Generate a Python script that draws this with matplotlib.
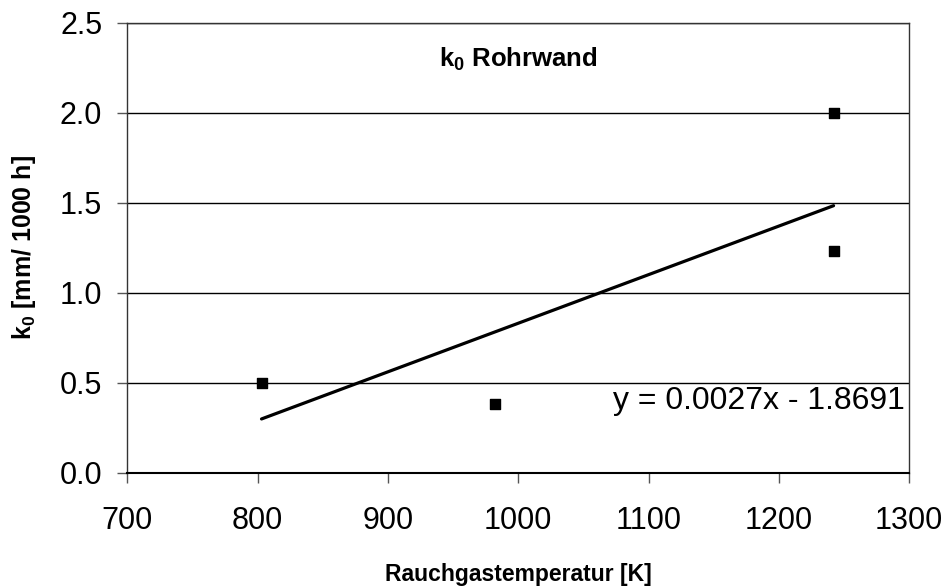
import numpy as np
import matplotlib.pyplot as plt

plt.rcParams['font.family'] = ['Liberation Sans', 'DejaVu Sans']
plt.rcParams['mathtext.fontset'] = 'custom'
plt.rcParams['mathtext.rm'] = 'Liberation Sans'
plt.rcParams['mathtext.bf'] = 'Liberation Sans:bold'

# measured corrosion rate vs flue gas temperature
temp = [803, 982, 1242, 1242]
k0 = [0.50, 0.38, 2.00, 1.23]

# linear trend line as given in the chart
slope = 0.0027
intercept = -1.8691

xticks = [700, 800, 900, 1000, 1100, 1200, 1300]
yticks = [0.0, 0.5, 1.0, 1.5, 2.0, 2.5]

fig = plt.figure(figsize=(9.5, 5.88), dpi=100)
ax = fig.add_axes([0.134, 0.196, 0.823, 0.765])

ax.grid(axis='y', color='black', linewidth=1.0)
ax.set_axisbelow(True)

xfit = np.array([min(temp), max(temp)])
ax.plot(xfit, slope * xfit + intercept, color='black', linewidth=2.3,
        solid_capstyle='round', zorder=3)
ax.scatter(temp, k0, marker='s', s=45, color='black', zorder=4)

ax.set_xlim(700, 1300)
ax.set_ylim(0, 2.5)
ax.set_xticks(xticks)
ax.set_yticks(yticks)
ax.set_yticklabels([f'{v:.1f}' for v in yticks])
ax.tick_params(axis='both', direction='out', length=7, width=1,
               color='#555555', labelsize=22)
ax.tick_params(axis='y', pad=11)
ax.tick_params(axis='x', pad=17)

for s in ax.spines.values():
    s.set_color('#333333')
    s.set_linewidth(1.0)
ax.spines['bottom'].set_color('black')
ax.spines['bottom'].set_linewidth(1.5)

ax.set_xlabel('Rauchgastemperatur [K]', fontsize=16.5, fontweight='bold')
ax.set_ylabel(r'k$_\mathbf{0}$ [mm/ 1000 h]', fontsize=18,
              fontweight='bold')
ax.xaxis.set_label_coords(0.5, -0.20)
ax.yaxis.set_label_coords(-0.114, 0.5)

ax.text(1000, 2.30, r'k$_\mathbf{0}$ Rohrwand', fontsize=18.5,
        fontweight='bold', ha='center', va='center')
ax.text(1297, 0.40, 'y = 0.0027x - 1.8691', fontsize=23,
        ha='right', va='center')

fig.savefig('out.png', dpi=100)
